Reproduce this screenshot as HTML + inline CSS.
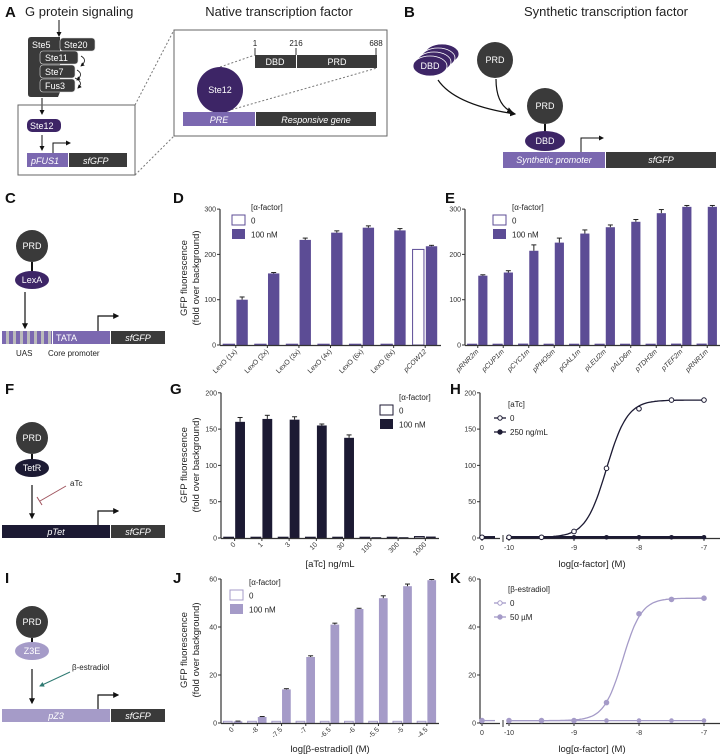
<!DOCTYPE html>
<html><head><meta charset="utf-8">
<style>
html,body{margin:0;padding:0;background:#fff;}
svg{display:block;font-family:"Liberation Sans",sans-serif;}
.lbl{font-weight:bold;font-size:15px;fill:#111;}
.tk{font-size:7px;fill:#333;}
.wt{fill:#fff;font-size:9px;}
</style></head>
<body>
<svg id="fig" width="724" height="754" viewBox="0 0 724 754" xmlns="http://www.w3.org/2000/svg">
<defs>
<marker id="ah" viewBox="0 0 10 10" refX="8" refY="5" markerWidth="5" markerHeight="5" orient="auto"><path d="M0,0L10,5L0,10z" fill="#111"/></marker>
<marker id="ahg" viewBox="0 0 10 10" refX="8" refY="5" markerWidth="5" markerHeight="5" orient="auto"><path d="M0,0L10,5L0,10z" fill="#2f7a72"/></marker>
</defs>

<!-- Panel A -->
<g>
<text class="lbl" x="5" y="17">A</text>
<text x="25" y="16" font-size="13" fill="#222">G protein signaling</text>
<line x1="59" y1="20" x2="59" y2="36" stroke="#111" stroke-width="1" marker-end="url(#ah)"/>
<path d="M28,40 Q28,37 31,37 L60,37 L60,92 L58,97 L31,97 Q28,97 28,94Z" fill="#3a3a3a"/>
<text class="wt" x="32" y="48" font-size="8">Ste5</text>
<rect x="60" y="38" width="35" height="13" rx="3" fill="#3a3a3a" stroke="#ddd" stroke-width="0.6"/>
<text class="wt" x="64" y="48" font-size="8">Ste20</text>
<rect x="40" y="51" width="38" height="13" rx="3" fill="#3a3a3a" stroke="#ddd" stroke-width="0.6"/>
<text class="wt" x="45" y="61" font-size="8">Ste11</text>
<rect x="40" y="65" width="35" height="13" rx="3" fill="#3a3a3a" stroke="#ddd" stroke-width="0.6"/>
<text class="wt" x="45" y="75" font-size="8">Ste7</text>
<rect x="40" y="79" width="35" height="13" rx="3" fill="#3a3a3a" stroke="#ddd" stroke-width="0.6"/>
<text class="wt" x="45" y="89" font-size="8">Fus3</text>
<path d="M81,56 Q88,60 81,66" fill="none" stroke="#111" stroke-width="0.8" marker-end="url(#ah)"/>
<path d="M77,70 Q84,74 77,80" fill="none" stroke="#111" stroke-width="0.8" marker-end="url(#ah)"/>
<path d="M75,78 Q84,82 78,88" fill="none" stroke="#111" stroke-width="0.8" marker-end="url(#ah)"/>
<line x1="42" y1="98" x2="42" y2="114" stroke="#111" marker-end="url(#ah)"/>
<rect x="18" y="105" width="117" height="70" fill="none" stroke="#666" stroke-width="1"/>
<rect x="27" y="119" width="34" height="13" rx="5" fill="#3d2566"/>
<text class="wt" x="30" y="129" font-size="8">Ste12</text>
<line x1="42" y1="135" x2="42" y2="150" stroke="#111" marker-end="url(#ah)"/>
<rect x="27" y="153" width="41" height="14" fill="#7b68b0"/>
<text class="wt" x="31" y="164" font-style="italic">pFUS1</text>
<rect x="69" y="153" width="58" height="14" fill="#3a3a3a"/>
<text class="wt" x="83" y="164" font-style="italic">sfGFP</text>
<path d="M53,153 L53,143 L70,143" fill="none" stroke="#111" marker-end="url(#ah)"/>
<line x1="135" y1="105" x2="174" y2="30" stroke="#777" stroke-dasharray="2,2"/>
<line x1="135" y1="175" x2="174" y2="136" stroke="#777" stroke-dasharray="2,2"/>
<text x="279" y="16" font-size="13" fill="#222" text-anchor="middle">Native transcription factor</text>
<rect x="174" y="30" width="213" height="106" fill="#fff" stroke="#666"/>
<text x="255" y="46" font-size="8" text-anchor="middle" fill="#222">1</text>
<text x="296" y="46" font-size="8" text-anchor="middle" fill="#222">216</text>
<text x="376" y="46" font-size="8" text-anchor="middle" fill="#222">688</text>
<line x1="255" y1="48" x2="255" y2="55" stroke="#333"/><line x1="296" y1="48" x2="296" y2="55" stroke="#333"/><line x1="376" y1="48" x2="376" y2="55" stroke="#333"/>
<rect x="255" y="55" width="41" height="13" fill="#3a3a3a"/>
<text class="wt" x="275" y="65" text-anchor="middle">DBD</text>
<rect x="297" y="55" width="80" height="13" fill="#3a3a3a"/>
<text class="wt" x="337" y="65" text-anchor="middle">PRD</text>
<line x1="220" y1="67" x2="255" y2="55" stroke="#777" stroke-dasharray="2,2"/>
<line x1="220" y1="113" x2="377" y2="68" stroke="#777" stroke-dasharray="2,2"/>
<circle cx="220" cy="90" r="23" fill="#3d2566"/>
<text class="wt" x="220" y="93" text-anchor="middle">Ste12</text>
<rect x="183" y="112" width="72" height="14" fill="#7b68b0"/>
<text class="wt" x="219" y="123" text-anchor="middle" font-style="italic">PRE</text>
<rect x="256" y="112" width="120" height="14" fill="#3a3a3a"/>
<text class="wt" x="316" y="123" text-anchor="middle" font-style="italic">Responsive gene</text>
</g>

<!-- Panel B -->
<g>
<text class="lbl" x="404" y="17">B</text>
<text x="606" y="16" font-size="13" fill="#222" text-anchor="middle">Synthetic transcription factor</text>
<ellipse cx="442" cy="54" rx="17" ry="10" fill="#3d2566" stroke="#fff" stroke-width="0.8"/>
<ellipse cx="438" cy="58" rx="17" ry="10" fill="#3d2566" stroke="#fff" stroke-width="0.8"/>
<ellipse cx="434" cy="62" rx="17" ry="10" fill="#3d2566" stroke="#fff" stroke-width="0.8"/>
<ellipse cx="430" cy="66" rx="17" ry="10" fill="#3d2566" stroke="#fff" stroke-width="0.8"/>
<text class="wt" x="430" y="69" text-anchor="middle">DBD</text>
<circle cx="495" cy="60" r="18" fill="#3a3a3a"/>
<text class="wt" x="495" y="63" text-anchor="middle">PRD</text>
<path d="M438,80 Q455,105 515,114" fill="none" stroke="#111" stroke-width="1.2" marker-end="url(#ah)"/>
<path d="M496,79 Q496,105 512,112" fill="none" stroke="#111" stroke-width="1.2" marker-end="url(#ah)"/>
<circle cx="545" cy="106" r="18" fill="#3a3a3a"/>
<text class="wt" x="545" y="109" text-anchor="middle">PRD</text>
<line x1="545" y1="124" x2="545" y2="132" stroke="#111" stroke-width="2"/>
<ellipse cx="545" cy="141" rx="20" ry="10" fill="#3d2566"/>
<text class="wt" x="545" y="144" text-anchor="middle">DBD</text>
<rect x="503" y="152" width="102" height="16" fill="#7b68b0"/>
<text class="wt" x="554" y="163" text-anchor="middle" font-style="italic">Synthetic promoter</text>
<rect x="606" y="152" width="110" height="16" fill="#3a3a3a"/>
<text class="wt" x="661" y="163" text-anchor="middle" font-style="italic">sfGFP</text>
<path d="M581,152 L581,138 L603,138" fill="none" stroke="#111" marker-end="url(#ah)"/>
</g>

<!-- Panels C, F, I diagrams -->
<g>
<text class="lbl" x="5" y="203">C</text>
<circle cx="32" cy="246" r="16" fill="#3a3a3a"/><text class="wt" x="32" y="249" text-anchor="middle">PRD</text>
<line x1="32" y1="262" x2="32" y2="272" stroke="#111" stroke-width="2"/>
<ellipse cx="32" cy="280" rx="17" ry="9" fill="#3d2566"/><text class="wt" x="32" y="283" text-anchor="middle" font-size="8">LexA</text>
<line x1="25" y1="292" x2="25" y2="328" stroke="#111" stroke-width="1.2" marker-end="url(#ah)"/>
<rect x="2" y="331" width="50" height="13" fill="#7b68b0"/>
<g fill="#bbb"><rect x="6" y="331" width="3" height="13"/><rect x="13" y="331" width="3" height="13"/><rect x="20" y="331" width="3" height="13"/><rect x="27" y="331" width="3" height="13"/><rect x="34" y="331" width="3" height="13"/><rect x="41" y="331" width="3" height="13"/><rect x="48" y="331" width="3" height="13"/></g>
<rect x="53" y="331" width="57" height="13" fill="#7b68b0"/><text class="wt" x="56" y="341">TATA</text>
<rect x="111" y="331" width="54" height="13" fill="#3a3a3a"/><text class="wt" x="138" y="341" text-anchor="middle" font-style="italic">sfGFP</text>
<path d="M98,331 L98,316 L118,316" fill="none" stroke="#111" stroke-width="1.2" marker-end="url(#ah)"/>
<text x="16" y="356" font-size="8" fill="#222">UAS</text><text x="48" y="356" font-size="8" fill="#222">Core promoter</text>
</g>
<g>
<text class="lbl" x="5" y="394">F</text>
<circle cx="32" cy="438" r="16" fill="#3a3a3a"/><text class="wt" x="32" y="441" text-anchor="middle">PRD</text>
<line x1="32" y1="454" x2="32" y2="462" stroke="#111" stroke-width="2"/>
<ellipse cx="32" cy="468" rx="17" ry="9" fill="#1c1a33"/><text class="wt" x="32" y="471" text-anchor="middle" font-size="8">TetR</text>
<line x1="32" y1="485" x2="32" y2="518" stroke="#111" stroke-width="1.2" marker-end="url(#ah)"/>
<text x="70" y="486" font-size="8" fill="#222">aTc</text>
<line x1="66" y1="486" x2="40" y2="501" stroke="#a0545e" stroke-width="1"/><line x1="37" y1="497" x2="42" y2="505" stroke="#a0545e" stroke-width="1"/>
<rect x="2" y="525" width="108" height="13" fill="#1c1a33"/><text class="wt" x="56" y="535" text-anchor="middle" font-style="italic">pTet</text>
<rect x="111" y="525" width="54" height="13" fill="#3a3a3a"/><text class="wt" x="138" y="535" text-anchor="middle" font-style="italic">sfGFP</text>
<path d="M98,525 L98,511 L118,511" fill="none" stroke="#111" stroke-width="1.2" marker-end="url(#ah)"/>
</g>
<g>
<text class="lbl" x="5" y="583">I</text>
<circle cx="32" cy="622" r="16" fill="#3a3a3a"/><text class="wt" x="32" y="625" text-anchor="middle">PRD</text>
<line x1="32" y1="638" x2="32" y2="645" stroke="#111" stroke-width="2"/>
<ellipse cx="32" cy="651" rx="17" ry="9" fill="#a59bc8"/><text class="wt" x="32" y="654" text-anchor="middle" font-size="8">Z3E</text>
<line x1="32" y1="669" x2="32" y2="703" stroke="#111" stroke-width="1.2" marker-end="url(#ah)"/>
<text x="72" y="670" font-size="8" fill="#222">β-estradiol</text>
<line x1="70" y1="672" x2="40" y2="686" stroke="#2f7a72" stroke-width="1" marker-end="url(#ahg)"/>
<rect x="2" y="709" width="108" height="13" fill="#a59bc8"/><text class="wt" x="56" y="719" text-anchor="middle" font-style="italic">pZ3</text>
<rect x="111" y="709" width="54" height="13" fill="#3a3a3a"/><text class="wt" x="138" y="719" text-anchor="middle" font-style="italic">sfGFP</text>
<path d="M98,709 L98,695 L118,695" fill="none" stroke="#111" stroke-width="1.2" marker-end="url(#ah)"/>
</g>

<text class="lbl" x="173" y="203">D</text>
<text class="lbl" x="445" y="203">E</text>
<text class="lbl" x="170" y="394">G</text>
<text class="lbl" x="450" y="394">H</text>
<text class="lbl" x="173" y="583">J</text>
<text class="lbl" x="450" y="583">K</text>
<g id="charts"></g>
</svg>
<script>
// ---- Data ----
const dCategories = ["LexO (1x)","LexO (2x)","LexO (3x)","LexO (4x)","LexO (6x)","LexO (8x)","pCOW12"];
const dUninduced = [1,1,1,1,1,1,211];
const dInduced = [100,158,232,248,259,253,218];
const dErr = [6,2,4,4,4,4,2];
const eCategories = ["pRNR2m","pCUP1m","pCYC1m","pPHO5m","pGAL1m","pLEU2m","pALD6m","pTDH3m","pTEF2m","pRNR1m"];
const eUninduced = [1,1,2,1,1,1,1,1,2,2];
const eInduced = [153,160,208,226,246,260,272,291,305,305];
const eErr = [2,4,13,10,8,5,5,8,3,3];
const gCategories = ["0","1","3","10","30","100","300","1000"];
const gUninduced = [1,1,1,1,1,1,1,2];
const gInduced = [160,164,163,155,138,1,1,2];
const gErr = [6,5,4,2,4,0,0,0];
const jCategories = ["0","-8","-7.5","-7","-6.5","-6","-5.5","-5","-4.5"];
const jUninduced = [0.7,0.7,0.7,0.7,0.7,0.7,0.7,0.7,0.7];
const jInduced = [0.7,2.5,14,27.5,41,47.5,52,57,59.5];
const jErr = [0.1,0.2,0.3,0.5,0.6,0.3,1,0.9,0.3];
const hLogX = [-10,-9.5,-9,-8.5,-8,-7.5,-7];
const hSeries0 = [1,1,9,96,178,190,190];
const hSeries250 = [1,1,1,1,1,1,1];
const hZero0 = 1, hZero250 = 1;
const hFit = [1,190,-8.5,2.7]; // bottom, top, logEC50, hill
const kLogX = [-10,-9.5,-9,-8.5,-8,-7.5,-7];
const kSeries0 = [1,1,1,1,1,1,1];
const kSeries50 = [1,1,1,8.5,45.5,51.5,52];
const kZero0 = 1, kZero50 = 1;
const kFit = [1,52,-8.25,3];
const dTicks = [0,100,200,300], gTicks = [0,50,100,150,200], jTicks = [0,20,40,60];
const xLogTicks = [-10,-9,-8,-7];

const NS = "http://www.w3.org/2000/svg";
const root = document.getElementById("charts");
function el(tag, attrs, parent, txt){
  const e = document.createElementNS(NS, tag);
  for (const k in attrs) e.setAttribute(k, attrs[k]);
  if (txt !== undefined) e.textContent = txt;
  (parent||root).appendChild(e);
  return e;
}
function yAxis(g, x, yScale, ticks, yTop){
  const a = el("line",{x1:x,y1:yScale(0)+0.5,x2:x,y2:yTop,stroke:"#333","stroke-width":1.2},g);
  
  
  ticks.forEach(t=>{
    el("line",{x1:x-3,y1:yScale(t),x2:x,y2:yScale(t),stroke:"#333","stroke-width":1},g);
    const tl = el("text",{x:x-4,y:yScale(t)+2.5,"text-anchor":"end",class:"tk"},g,String(t));
    
    
  });
}
function yTitle(g, x, cy){
  const t = el("text",{x:0,y:0,transform:`translate(${x},${cy}) rotate(-90)`,"text-anchor":"middle","font-size":"9.5",fill:"#222"},g,"GFP fluorescence");
  
  
  const t2 = el("text",{x:0,y:0,transform:`translate(${x+12},${cy}) rotate(-90)`,"text-anchor":"middle","font-size":"9.5",fill:"#222"},g,"(fold over background)");
  
  
}
function barChart(name, o, cats, v0, v1, err, ticks){
  const g = el("g",{},root);
  
  
  const ys = v => o.y0 - v*o.ppu;
  const gw = (o.x1 - o.x0)/cats.length;
  cats.forEach((c,i)=>{
    const gx = o.x0 + i*gw;
    const bw = gw*0.36;
    const h0 = Math.max(v0[i]*o.ppu,0.8);
    const r0 = el("rect",{x:gx+gw*0.1,y:o.y0-h0,width:bw,height:h0,fill:"#fff",stroke:o.c,"stroke-width":1},g);
    
    
    const h1 = Math.max(v1[i]*o.ppu,0.8);
    const bx = gx+gw*0.52;
    const r1 = el("rect",{x:bx,y:o.y0-h1,width:bw,height:h1,fill:o.c},g);
    
    
    if (err[i]>0){
      const cx = bx+bw/2, ye = ys(v1[i]+err[i]);
      el("line",{x1:cx,y1:ys(v1[i]),x2:cx,y2:ye,stroke:"#222","stroke-width":1},g);
      el("line",{x1:cx-2.5,y1:ye,x2:cx+2.5,y2:ye,stroke:"#222","stroke-width":1},g);
    }
    const lx = gx+gw*0.55, ly = o.y0+7;
    const tl = el("text",{x:0,y:0,transform:`translate(${lx},${ly}) rotate(-45)`,"text-anchor":"end",class:"tk","font-style":(o.italic && (o.italic===true || c[0]==='p'))?"italic":"normal"},g,c);
    
    
    el("line",{x1:gx+gw/2,y1:o.y0,x2:gx+gw/2,y2:o.y0+3,stroke:"#333"},g);
  });
  const xa = el("line",{x1:o.x0,y1:o.y0+0.5,x2:o.x1,y2:o.y0+0.5,stroke:"#333","stroke-width":1.2},g);
  
  
  yAxis(g,o.x0,ys,ticks,ys(ticks[ticks.length-1]));
  return g;
}
function legendBars(g, x, y, c, title){
  const t = el("text",{x:x+19,y:y,"font-size":"8",fill:"#222"},g,title);
  
  
  const b0 = el("rect",{x:x,y:y+5,width:13,height:10,fill:"#fff",stroke:c},g);
  
  
  el("text",{x:x+19,y:y+13.5,"font-size":"8",fill:"#222"},g,"0");
  const b1 = el("rect",{x:x,y:y+19,width:13,height:10,fill:c},g);
  
  
  el("text",{x:x+19,y:y+27.5,"font-size":"8",fill:"#222"},g,"100 nM");
}
// D
const gD = barChart("chart-d",{x0:220,x1:441,y0:345,ppu:0.453,c:"#5c4c95",italic:"p"},dCategories,dUninduced,dInduced,dErr,dTicks);
yTitle(gD,187,278); legendBars(gD,232,210,"#5c4c95","[α-factor]");
// E
const gE = barChart("chart-e",{x0:465,x1:720,y0:345,ppu:0.453,c:"#5c4c95",italic:true},eCategories,eUninduced,eInduced,eErr,dTicks);
legendBars(gE,493,210,"#5c4c95","[α-factor]");
// G
const gG = barChart("chart-g",{x0:221,x1:439,y0:538,ppu:0.726,c:"#1c1a33"},gCategories,gUninduced,gInduced,gErr,gTicks);
yTitle(gG,187,465); legendBars(gG,380,400,"#1c1a33","[α-factor]");
const gTitle = el("text",{x:330,y:567,"text-anchor":"middle","font-size":"9.5",fill:"#222"},gG,"[aTc] ng/mL");


// J
const gJ = barChart("chart-j",{x0:221,x1:439,y0:723,ppu:2.4,c:"#a59bc8"},jCategories,jUninduced,jInduced,jErr,jTicks);
yTitle(gJ,187,650); legendBars(gJ,230,585,"#a59bc8","[α-factor]");
const jTitle = el("text",{x:330,y:752,"text-anchor":"middle","font-size":"9.5",fill:"#222"},gJ,"log[β-estradiol] (M)");



// Dose-response
function hill(p, x){ return p[0] + (p[1]-p[0])/(1+Math.pow(10,(p[2]-x)*p[3])); }
function doseChart(name, o, lx, sA, sB, zA, zB, fitA, ticks, leg){
  const g = el("g",{},root);
  
  
  const xs = v => 574 + (v+9)*65;
  const xz = 482;
  const ys = v => o.y0 - v*o.ppu;
  yAxis(g,480,ys,ticks,ys(ticks[ticks.length-1]));
  const a1 = el("line",{x1:480,y1:o.y0+0.5,x2:500,y2:o.y0+0.5,stroke:"#333","stroke-width":1.2},g);
  
  
  const a2 = el("line",{x1:506,y1:o.y0+0.5,x2:720,y2:o.y0+0.5,stroke:"#333","stroke-width":1.2},g);
  
  
  el("line",{x1:503,y1:o.y0-3,x2:503,y2:o.y0+4,stroke:"#333"},g);
  el("line",{x1:xz,y1:o.y0,x2:xz,y2:o.y0+3,stroke:"#333"},g);
  el("text",{x:xz,y:o.y0+12,"text-anchor":"middle",class:"tk"},g,"0");
  xLogTicks.forEach(t=>{
    el("line",{x1:xs(t),y1:o.y0,x2:xs(t),y2:o.y0+3,stroke:"#333"},g);
    const tl = el("text",{x:xs(t),y:o.y0+12,"text-anchor":"middle",class:"tk"},g,String(t));
    
    
  });
  let d = "";
  for (let k=0;k<=120;k++){ const x = lx[0] + (lx[lx.length-1]-lx[0])*k/120; d += (k?"L":"M")+xs(x).toFixed(1)+","+ys(hill(fitA,x)).toFixed(1); }
  const cA = el("path",{d:d,fill:"none",stroke:o.c,"stroke-width":1.3},g);
  
  
  const mB = sB.reduce((s,v)=>s+v,0)/sB.length;
  const cB = el("line",{x1:xs(lx[0]),y1:ys(mB),x2:xs(lx[lx.length-1]),y2:ys(mB),stroke:o.c,"stroke-width":o.thickB},g);
  
  
  el("line",{x1:xz,y1:ys(zB),x2:xz+13,y2:ys(zB),stroke:o.c,"stroke-width":o.thickB},g);
  const ptsA = lx.map((x,i)=>[xs(x),sA[i]]).concat([[xz,zA]]);
  const ptsB = lx.map((x,i)=>[xs(x),sB[i]]).concat([[xz,zB]]);
  ptsB.forEach(p=>{
    const c = el("circle",{cx:p[0],cy:ys(p[1]),r:2.3,fill:o.c},g);
    
    
  });
  ptsA.forEach(p=>{
    const c = el("circle",{cx:p[0],cy:ys(p[1]),r:2.3,fill:o.aFilled?o.c:"#fff",stroke:o.c,"stroke-width":1},g);
    
    
  });
  const lt = el("text",{x:508,y:o.legY,"font-size":"8",fill:"#222"},g,leg[0]);
  
  
  [[leg[1],false],[leg[2],true]].forEach((e,i)=>{
    const y = o.legY+14+i*14-3;
    el("line",{x1:494,y1:y,x2:506,y2:y,stroke:o.c,"stroke-width":1.3},g);
    const m = el("circle",{cx:500,cy:y,r:2.2,fill:e[1]?o.c:"#fff",stroke:o.c},g);
    
    
    el("text",{x:510,y:y+3,"font-size":"8",fill:"#222"},g,e[0]);
  });
  const xt = el("text",{x:592,y:o.y0+29,"text-anchor":"middle","font-size":"9.5",fill:"#222"},g,"log[α-factor] (M)");
  
  
}
doseChart("chart-h",{y0:538,ppu:0.726,c:"#1c1a33",legY:407,thickB:2.5,aFilled:false,bFilled:true},hLogX,hSeries0,hSeries250,hZero0,hZero250,hFit,gTicks,["[aTc]","0","250 ng/mL"]);
doseChart("chart-k",{y0:723,ppu:2.4,c:"#a59bc8",legY:592,thickB:1.3,aFilled:true,bFilled:false},kLogX,kSeries50,kSeries0,kZero50,kZero0,kFit,jTicks,["[β-estradiol]","0","50 µM"]);
</script>
</body></html>
